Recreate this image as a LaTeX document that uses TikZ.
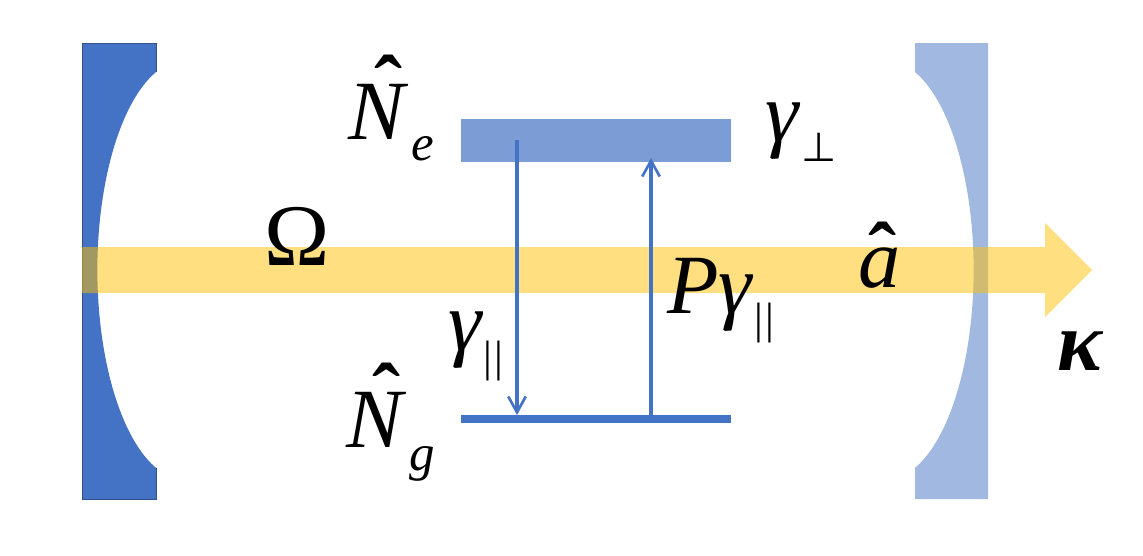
\documentclass[tikz,border=0pt]{standalone}
\usepackage{fontspec}
\setmainfont{Liberation Serif}
\newfontfamily\perpfont{DejaVu Sans}
\usetikzlibrary{arrows.meta}
\definecolor{mirrorblue}{HTML}{4472C4}
\definecolor{beamyellow}{HTML}{FFC000}
\newcommand{\hatted}[3]{\rlap{\kern#1\raisebox{#2}{\bfseries ˆ}}\textit{#3}}
\newcommand{\parbars}{\textbar\kern1.5pt\textbar}
\tikzstyle{bigsymbol}=[anchor=base west,inner sep=0pt,font=\fontsize{48}{48}\selectfont]
\tikzstyle{subsymbol}=[anchor=base west,inner sep=0pt,font=\fontsize{29}{29}\selectfont]
\tikzstyle{barsymbol}=[anchor=base west,inner sep=0pt,font=\fontsize{25}{25}\selectfont]
\tikzstyle{transition} = [draw=mirrorblue,line width=1.9pt,-{Straight Barb[length=9pt,width=10pt,line width=1.5pt]}]
\tikzstyle{energylevel} = [fill=mirrorblue,inner sep=0pt,minimum width=5.4cm]

\begin{document}
\begin{tikzpicture}[x=0.02cm,y=-0.02cm]

    \useasboundingbox (0,0) rectangle (1143,555);

    % mirrors
    \fill[mirrorblue] (82,43) -- (156,43) -- (156,72) arc[start angle=250.5, end angle=109.5, x radius=88, y radius=210] -- (156,499) -- (82,499) -- cycle;
    \draw[mirrorblue!70!black, line width=0.4pt] (156,72) -- (156,43) -- (82,43) -- (82,499) -- (156,499) -- (156,468);
    \fill[mirrorblue, opacity=0.5] (988,43) -- (915,43) -- (915,72) arc[start angle=-70.5, end angle=70.5, x radius=88, y radius=210] -- (915,499) -- (988,499) -- cycle;

    % beam
    \fill[beamyellow, opacity=0.5] (82,247) -- (1045,247) -- (1045,223) -- (1092,270) -- (1045,317) -- (1045,293) -- (82,293) -- cycle;

    % levels
    \node[energylevel, opacity=0.7, minimum height=0.86cm] (upper) at (596,140.5) {};
    \node[energylevel, minimum height=0.16cm] (lower) at (596,419) {};

    \coordinate (decaystart) at (517,140);
    \coordinate (decayend) at (517,415);
    \coordinate (pumpstart) at (651,415);
    \coordinate (pumpend) at (651,158);
    \path[transition] (decaystart) -- (decayend);
    \path[transition] (pumpstart) -- (pumpend);

    % labels
    \node[bigsymbol] (Ne) at (348,139) {\hatted{15pt}{14pt}{N}};
    \node[subsymbol] (Nesub) at (411,160) {\textit{e}};
    \node[bigsymbol] (Ng) at (346,447) {\hatted{15pt}{14pt}{N}};
    \node[subsymbol] (Ngsub) at (409,470) {\textit{g}};
    \node[bigsymbol] (gperp) at (765,141) {\textit{γ}};
    \node[subsymbol] (perp) at (801,161) {\perpfont\fontsize{23}{23}\selectfont ⊥};
    \node[bigsymbol, font=\fontsize{50}{50}\selectfont] (Omega) at (264,265) {Ω};
    \node[bigsymbol] (ahat) at (858,287) {\hatted{6pt}{3.4pt}{a}};
    \node[bigsymbol] (Pg) at (667,313) {\textit{Pγ}};
    \node[barsymbol] (Pgsub) at (754,333) {\parbars};
    \node[bigsymbol] (gpar) at (448,350) {\textit{γ}};
    \node[barsymbol] (gparsub) at (483,371) {\parbars};
    \node[bigsymbol] (kappa) at (1057,370) {\textbf{\textit{κ}}};

\end{tikzpicture}
\end{document}
